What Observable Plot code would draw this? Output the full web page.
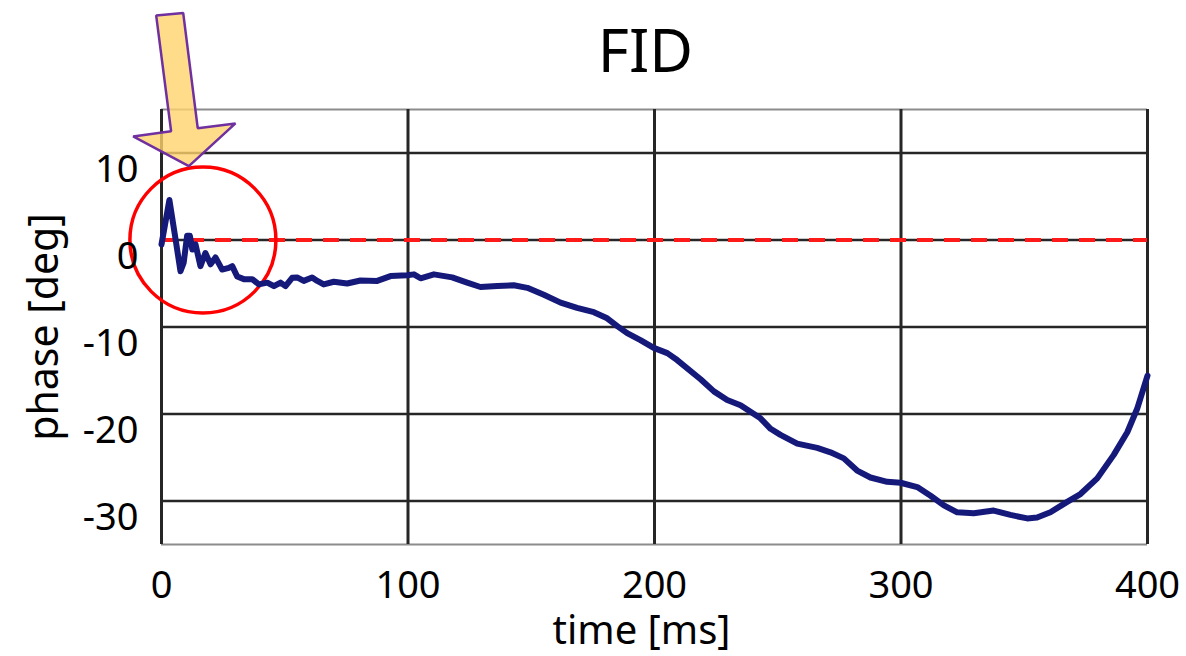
<!DOCTYPE html>
<html>
<head>
<meta charset="utf-8">
<script src="https://cdn.jsdelivr.net/npm/d3@7"></script>
<script src="https://cdn.jsdelivr.net/npm/@observablehq/plot@0.6"></script>
<style>
  html, body { margin: 0; padding: 0; background: #fff; }
  #chart svg { display: block; }
</style>
</head>
<body>
<div id="chart"></div>
<script>
// ---- data ----
const chartTitle = "FID";
const xLabel = "time [ms]";
const yLabel = "phase [deg]";
const xTicks = [0, 100, 200, 300, 400];
const yTicks = [10, 0, -10, -20, -30];

const time = [0, 3.2, 5.7, 7.7, 9.0, 10.4, 11.5, 12.5, 13.8, 15.8, 17.8, 19.9, 21.9, 24.6, 27.3, 28.7, 30.7, 33.4, 36.8, 39.5, 42.9, 45.6, 48.3, 50.3, 53.0, 55.0, 57.7, 61.1, 63.2, 65.8, 69.9, 75.3, 80.7, 87.5, 92.9, 99.7, 102.4, 105.1, 110.5, 117.9, 124.0, 129.4, 136.2, 142.9, 148.4, 155.1, 161.9, 168.6, 175.4, 180.8, 184.9, 188.9, 194.3, 199.7, 205.2, 209.2, 218.7, 224.1, 229.5, 234.9, 243.0, 247.1, 251.1, 257.9, 266.0, 271.4, 276.8, 282.2, 287.6, 294.4, 299.8, 306.6, 312.0, 317.4, 322.8, 329.5, 337.6, 344.4, 351.2, 355.2, 360.6, 367.4, 372.8, 379.6, 386.3, 391.8, 395.8, 400];
const phase = [-0.5, 4.6, 0.1, -3.6, -2.6, 0.5, 0.5, -1.1, -0.5, -3.0, -1.5, -2.8, -2.0, -3.4, -3.2, -3.0, -4.2, -4.5, -4.5, -5.1, -4.9, -5.3, -4.9, -5.3, -4.35, -4.3, -4.7, -4.3, -4.7, -5.1, -4.8, -5.0, -4.65, -4.7, -4.15, -4.05, -3.95, -4.4, -3.95, -4.3, -4.9, -5.4, -5.3, -5.2, -5.5, -6.3, -7.2, -7.8, -8.3, -9.0, -9.9, -10.7, -11.5, -12.4, -13.0, -13.8, -16.0, -17.4, -18.4, -19.0, -20.5, -21.7, -22.4, -23.4, -23.9, -24.4, -25.1, -26.5, -27.3, -27.8, -27.9, -28.4, -29.4, -30.5, -31.3, -31.4, -31.1, -31.6, -32.0, -31.9, -31.3, -30.1, -29.2, -27.4, -24.7, -22.1, -19.4, -15.6];

const referenceLevel = [0];

// annotation shapes (in data units)
const circleCenterTime = [16.8];
const circleCenterPhase = [0];
const arrowTime  = [-2.15, 8.8, 14.7, 30.0, 11.1, -11.5, 3.9];
const arrowPhase = [25.8, 26.1, 12.85, 13.4, 8.5, 11.9, 12.5];

// ---- build tables ----
const series = time.map((t, i) => ({t, v: phase[i]}));
const arrow = arrowTime.map((t, i) => ({t, v: arrowPhase[i]}));
const circle = circleCenterTime.map((t, i) => ({t, v: circleCenterPhase[i]}));

const font = "'Noto Sans', 'Open Sans', sans-serif";

const chart = Plot.plot({
  width: 1186,
  height: 656,
  marginLeft: 161,
  marginRight: 39,
  marginTop: 109,
  marginBottom: 112,
  style: {fontFamily: font, background: "#fff"},
  x: {domain: [0, 400], axis: null},
  y: {domain: [-35, 15], axis: null},
  marks: [
    // frame top / bottom (gray)
    Plot.ruleY([15, -35], {stroke: "#8c8c8c", strokeWidth: 2}),
    // horizontal grid
    Plot.ruleY(yTicks, {stroke: "#262626", strokeWidth: 2.5}),
    // vertical grid incl. left border
    Plot.ruleX(xTicks, {stroke: "#262626", strokeWidth: 3}),
    // reference level
    Plot.ruleY(referenceLevel, {stroke: "#ff1a1a", strokeWidth: 4, strokeDasharray: "16,11"}),
    // highlight circle
    Plot.dot(circle, {x: "t", y: "v", r: 73, fill: "none", stroke: "#ff0000", strokeWidth: 3.5}),
    // phase line
    Plot.line(series, {x: "t", y: "v", stroke: "#15197a", strokeWidth: 6, strokeLinejoin: "round", strokeLinecap: "round"}),
    // arrow
    Plot.line(arrow, {x: "t", y: "v", curve: "linear-closed", fill: "#ffd36b", fillOpacity: 0.8, stroke: "#7030a0", strokeWidth: 2.5, strokeLinejoin: "miter"}),
    // tick labels
    Plot.text(yTicks, {y: d => d, text: d => String(d), frameAnchor: "left", textAnchor: "end", dx: -23, dy: 17, fontSize: 38, fill: "#000"}),
    Plot.text(xTicks, {x: d => d, text: d => String(d), frameAnchor: "bottom", lineAnchor: "top", dy: 27, fontSize: 38, fill: "#000"}),
    // axis labels
    Plot.text([xLabel], {text: d => d, frameAnchor: "bottom", lineAnchor: "top", dx: -13, dy: 71, fontSize: 40, fill: "#000"}),
    Plot.text([yLabel], {text: d => d, frameAnchor: "left", textAnchor: "middle", rotate: -90, dx: -117, fontSize: 41, fill: "#000"}),
    // title
    Plot.text([chartTitle], {text: d => d, frameAnchor: "top", lineAnchor: "top", dx: -9, dy: -80, fontSize: 60, fill: "#000"})
  ]
});
document.getElementById("chart").appendChild(chart);
</script>
</body>
</html>
